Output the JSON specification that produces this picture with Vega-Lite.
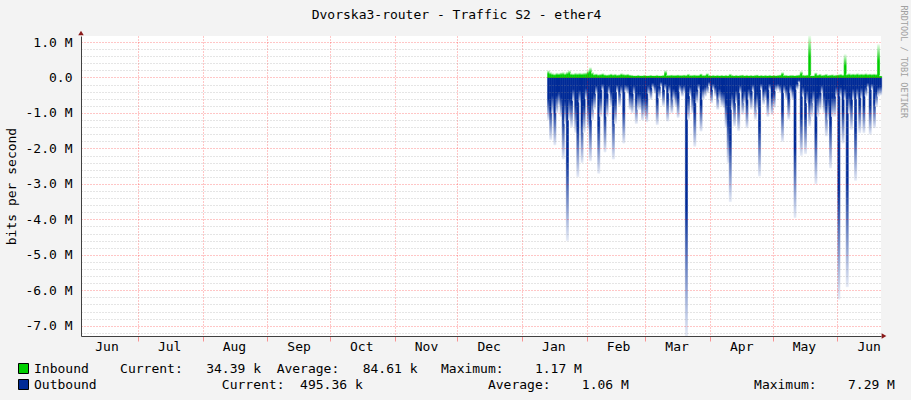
{
  "$schema": "https://vega.github.io/schema/vega-lite/v6.json",
  "width": 800,
  "height": 300,
  "autosize": {"type": "none"},
  "padding": {"left": 81, "top": 36, "right": 30, "bottom": 64},
  "background": "#F3F3F3",
  "view": {"fill": "#FFFFFF", "stroke": null},
  "config": {
    "axis": {"labelFont": "DejaVu Sans Mono", "labelFontSize": 13, "labelColor": "#000000", "titleFont": "DejaVu Sans Mono", "titleFontWeight": "normal", "titleColor": "#000000", "domainColor": "#404040", "tickSize": 0}
  },
  "data": {"values": [
    {"date": "2019-01-13", "inbound": 200000, "outbound": -1200000},
    {"date": "2019-01-14", "inbound": 150000, "outbound": -1750000},
    {"date": "2019-01-15", "inbound": 120000, "outbound": -1000000},
    {"date": "2019-01-16", "inbound": 100000, "outbound": -1900000},
    {"date": "2019-01-17", "inbound": 130000, "outbound": -1000000},
    {"date": "2019-01-18", "inbound": 120000, "outbound": -800000},
    {"date": "2019-01-19", "inbound": 140000, "outbound": -1100000},
    {"date": "2019-01-20", "inbound": 150000, "outbound": -2300000},
    {"date": "2019-01-21", "inbound": 120000, "outbound": -1300000},
    {"date": "2019-01-22", "inbound": 160000, "outbound": -4600000},
    {"date": "2019-01-23", "inbound": 200000, "outbound": -1200000},
    {"date": "2019-01-24", "inbound": 120000, "outbound": -1400000},
    {"date": "2019-01-25", "inbound": 110000, "outbound": -650000},
    {"date": "2019-01-26", "inbound": 130000, "outbound": -1550000},
    {"date": "2019-01-27", "inbound": 120000, "outbound": -2800000},
    {"date": "2019-01-28", "inbound": 130000, "outbound": -700000},
    {"date": "2019-01-29", "inbound": 120000, "outbound": -2400000},
    {"date": "2019-01-30", "inbound": 130000, "outbound": -1550000},
    {"date": "2019-01-31", "inbound": 140000, "outbound": -600000},
    {"date": "2019-02-01", "inbound": 200000, "outbound": -1450000},
    {"date": "2019-02-02", "inbound": 280000, "outbound": -2350000},
    {"date": "2019-02-03", "inbound": 150000, "outbound": -1200000},
    {"date": "2019-02-04", "inbound": 100000, "outbound": -900000},
    {"date": "2019-02-05", "inbound": 110000, "outbound": -450000},
    {"date": "2019-02-06", "inbound": 90000, "outbound": -2700000},
    {"date": "2019-02-07", "inbound": 100000, "outbound": -1100000},
    {"date": "2019-02-08", "inbound": 120000, "outbound": -350000},
    {"date": "2019-02-09", "inbound": 90000, "outbound": -2100000},
    {"date": "2019-02-10", "inbound": 80000, "outbound": -1100000},
    {"date": "2019-02-11", "inbound": 90000, "outbound": -450000},
    {"date": "2019-02-12", "inbound": 110000, "outbound": -800000},
    {"date": "2019-02-13", "inbound": 90000, "outbound": -2300000},
    {"date": "2019-02-14", "inbound": 100000, "outbound": -1300000},
    {"date": "2019-02-15", "inbound": 80000, "outbound": -400000},
    {"date": "2019-02-16", "inbound": 90000, "outbound": -800000},
    {"date": "2019-02-17", "inbound": 120000, "outbound": -450000},
    {"date": "2019-02-18", "inbound": 100000, "outbound": -1850000},
    {"date": "2019-02-19", "inbound": 90000, "outbound": -400000},
    {"date": "2019-02-20", "inbound": 100000, "outbound": -450000},
    {"date": "2019-02-21", "inbound": 80000, "outbound": -900000},
    {"date": "2019-02-22", "inbound": 70000, "outbound": -1000000},
    {"date": "2019-02-23", "inbound": 60000, "outbound": -450000},
    {"date": "2019-02-24", "inbound": 60000, "outbound": -1300000},
    {"date": "2019-02-25", "inbound": 70000, "outbound": -900000},
    {"date": "2019-02-26", "inbound": 60000, "outbound": -900000},
    {"date": "2019-02-27", "inbound": 60000, "outbound": -1200000},
    {"date": "2019-02-28", "inbound": 70000, "outbound": -1100000},
    {"date": "2019-03-01", "inbound": 60000, "outbound": -1250000},
    {"date": "2019-03-02", "inbound": 60000, "outbound": -450000},
    {"date": "2019-03-03", "inbound": 70000, "outbound": -620000},
    {"date": "2019-03-04", "inbound": 60000, "outbound": -300000},
    {"date": "2019-03-05", "inbound": 60000, "outbound": -450000},
    {"date": "2019-03-06", "inbound": 70000, "outbound": -1330000},
    {"date": "2019-03-07", "inbound": 60000, "outbound": -580000},
    {"date": "2019-03-08", "inbound": 60000, "outbound": -250000},
    {"date": "2019-03-09", "inbound": 70000, "outbound": -800000},
    {"date": "2019-03-10", "inbound": 200000, "outbound": -340000},
    {"date": "2019-03-11", "inbound": 70000, "outbound": -1230000},
    {"date": "2019-03-12", "inbound": 70000, "outbound": -440000},
    {"date": "2019-03-13", "inbound": 80000, "outbound": -1000000},
    {"date": "2019-03-14", "inbound": 70000, "outbound": -620000},
    {"date": "2019-03-15", "inbound": 70000, "outbound": -810000},
    {"date": "2019-03-16", "inbound": 80000, "outbound": -1130000},
    {"date": "2019-03-17", "inbound": 70000, "outbound": -390000},
    {"date": "2019-03-18", "inbound": 70000, "outbound": -530000},
    {"date": "2019-03-19", "inbound": 80000, "outbound": -430000},
    {"date": "2019-03-20", "inbound": 70000, "outbound": -7290000},
    {"date": "2019-03-21", "inbound": 100000, "outbound": -1180000},
    {"date": "2019-03-22", "inbound": 70000, "outbound": -520000},
    {"date": "2019-03-23", "inbound": 70000, "outbound": -1000000},
    {"date": "2019-03-24", "inbound": 80000, "outbound": -1940000},
    {"date": "2019-03-25", "inbound": 70000, "outbound": -720000},
    {"date": "2019-03-26", "inbound": 70000, "outbound": -340000},
    {"date": "2019-03-27", "inbound": 110000, "outbound": -1510000},
    {"date": "2019-03-28", "inbound": 70000, "outbound": -620000},
    {"date": "2019-03-29", "inbound": 70000, "outbound": -530000},
    {"date": "2019-03-30", "inbound": 120000, "outbound": -440000},
    {"date": "2019-03-31", "inbound": 70000, "outbound": -250000},
    {"date": "2019-04-01", "inbound": 60000, "outbound": -720000},
    {"date": "2019-04-02", "inbound": 70000, "outbound": -340000},
    {"date": "2019-04-03", "inbound": 60000, "outbound": -530000},
    {"date": "2019-04-04", "inbound": 70000, "outbound": -900000},
    {"date": "2019-04-05", "inbound": 60000, "outbound": -620000},
    {"date": "2019-04-06", "inbound": 70000, "outbound": -800000},
    {"date": "2019-04-07", "inbound": 60000, "outbound": -850000},
    {"date": "2019-04-08", "inbound": 70000, "outbound": -1400000},
    {"date": "2019-04-09", "inbound": 60000, "outbound": -2400000},
    {"date": "2019-04-10", "inbound": 100000, "outbound": -3500000},
    {"date": "2019-04-11", "inbound": 70000, "outbound": -900000},
    {"date": "2019-04-12", "inbound": 60000, "outbound": -1370000},
    {"date": "2019-04-13", "inbound": 70000, "outbound": -720000},
    {"date": "2019-04-14", "inbound": 60000, "outbound": -1500000},
    {"date": "2019-04-15", "inbound": 70000, "outbound": -430000},
    {"date": "2019-04-16", "inbound": 80000, "outbound": -1040000},
    {"date": "2019-04-17", "inbound": 60000, "outbound": -720000},
    {"date": "2019-04-18", "inbound": 70000, "outbound": -1420000},
    {"date": "2019-04-19", "inbound": 60000, "outbound": -620000},
    {"date": "2019-04-20", "inbound": 70000, "outbound": -900000},
    {"date": "2019-04-21", "inbound": 60000, "outbound": -380000},
    {"date": "2019-04-22", "inbound": 70000, "outbound": -1180000},
    {"date": "2019-04-23", "inbound": 80000, "outbound": -900000},
    {"date": "2019-04-24", "inbound": 60000, "outbound": -2780000},
    {"date": "2019-04-25", "inbound": 70000, "outbound": -340000},
    {"date": "2019-04-26", "inbound": 60000, "outbound": -760000},
    {"date": "2019-04-27", "inbound": 70000, "outbound": -620000},
    {"date": "2019-04-28", "inbound": 60000, "outbound": -1100000},
    {"date": "2019-04-29", "inbound": 70000, "outbound": -340000},
    {"date": "2019-04-30", "inbound": 60000, "outbound": -1040000},
    {"date": "2019-05-01", "inbound": 70000, "outbound": -850000},
    {"date": "2019-05-02", "inbound": 60000, "outbound": -380000},
    {"date": "2019-05-03", "inbound": 70000, "outbound": -340000},
    {"date": "2019-05-04", "inbound": 80000, "outbound": -430000},
    {"date": "2019-05-05", "inbound": 150000, "outbound": -1800000},
    {"date": "2019-05-06", "inbound": 70000, "outbound": -430000},
    {"date": "2019-05-07", "inbound": 70000, "outbound": -620000},
    {"date": "2019-05-08", "inbound": 60000, "outbound": -1180000},
    {"date": "2019-05-09", "inbound": 70000, "outbound": -430000},
    {"date": "2019-05-10", "inbound": 70000, "outbound": -620000},
    {"date": "2019-05-11", "inbound": 60000, "outbound": -3950000},
    {"date": "2019-05-12", "inbound": 70000, "outbound": -340000},
    {"date": "2019-05-13", "inbound": 80000, "outbound": -150000},
    {"date": "2019-05-14", "inbound": 180000, "outbound": -2200000},
    {"date": "2019-05-15", "inbound": 80000, "outbound": -530000},
    {"date": "2019-05-16", "inbound": 70000, "outbound": -2150000},
    {"date": "2019-05-17", "inbound": 80000, "outbound": -720000},
    {"date": "2019-05-18", "inbound": 1170000, "outbound": -1370000},
    {"date": "2019-05-19", "inbound": 60000, "outbound": -1100000},
    {"date": "2019-05-20", "inbound": 60000, "outbound": -720000},
    {"date": "2019-05-21", "inbound": 140000, "outbound": -3000000},
    {"date": "2019-05-22", "inbound": 80000, "outbound": -1100000},
    {"date": "2019-05-23", "inbound": 100000, "outbound": -900000},
    {"date": "2019-05-24", "inbound": 70000, "outbound": -430000},
    {"date": "2019-05-25", "inbound": 80000, "outbound": -1000000},
    {"date": "2019-05-26", "inbound": 100000, "outbound": -1650000},
    {"date": "2019-05-27", "inbound": 70000, "outbound": -1180000},
    {"date": "2019-05-28", "inbound": 80000, "outbound": -2550000},
    {"date": "2019-05-29", "inbound": 90000, "outbound": -1100000},
    {"date": "2019-05-30", "inbound": 70000, "outbound": -1100000},
    {"date": "2019-05-31", "inbound": 80000, "outbound": -530000},
    {"date": "2019-06-01", "inbound": 90000, "outbound": -6250000},
    {"date": "2019-06-02", "inbound": 100000, "outbound": -530000},
    {"date": "2019-06-03", "inbound": 80000, "outbound": -1850000},
    {"date": "2019-06-04", "inbound": 650000, "outbound": -620000},
    {"date": "2019-06-05", "inbound": 100000, "outbound": -5900000},
    {"date": "2019-06-06", "inbound": 120000, "outbound": -1000000},
    {"date": "2019-06-07", "inbound": 100000, "outbound": -1470000},
    {"date": "2019-06-08", "inbound": 110000, "outbound": -620000},
    {"date": "2019-06-09", "inbound": 100000, "outbound": -2900000},
    {"date": "2019-06-10", "inbound": 120000, "outbound": -600000},
    {"date": "2019-06-11", "inbound": 100000, "outbound": -1560000},
    {"date": "2019-06-12", "inbound": 110000, "outbound": -570000},
    {"date": "2019-06-13", "inbound": 100000, "outbound": -1560000},
    {"date": "2019-06-14", "inbound": 120000, "outbound": -530000},
    {"date": "2019-06-15", "inbound": 100000, "outbound": -300000},
    {"date": "2019-06-16", "inbound": 110000, "outbound": -1600000},
    {"date": "2019-06-17", "inbound": 100000, "outbound": -340000},
    {"date": "2019-06-18", "inbound": 110000, "outbound": -1420000},
    {"date": "2019-06-19", "inbound": 100000, "outbound": -810000},
    {"date": "2019-06-20", "inbound": 930000, "outbound": -530000},
    {"date": "2019-06-21", "inbound": 50000, "outbound": -495360}
  ]},
  "layer": [
    {
      "mark": {"type": "bar", "binSpacing": 0, "strokeWidth": 0.6,
        "fill": {"gradient": "linear", "x1": 0, "y1": 0, "x2": 0, "y2": 1, "stops": [{"offset": 0, "color": "#002A97"}, {"offset": 0.5, "color": "#002A97"}, {"offset": 1, "color": "#E4E9F5"}]},
        "stroke": {"gradient": "linear", "x1": 0, "y1": 0, "x2": 0, "y2": 1, "stops": [{"offset": 0, "color": "#002A97"}, {"offset": 0.5, "color": "#002A97"}, {"offset": 1, "color": "#E4E9F5"}]}},
      "encoding": {
        "x": {"field": "date", "type": "temporal", "timeUnit": "utcyearmonthdate",
          "scale": {"type": "utc", "domain": [{"year": 2018, "month": 6, "date": 3, "hours": 19, "utc": true}, {"year": 2019, "month": 6, "date": 21, "hours": 22, "utc": true}]},
          "axis": {"orient": "bottom", "title": null, "labels": false, "domain": false, "ticks": true, "tickSize": 5, "tickColor": "#FF0000", "tickOpacity": 0.4, "grid": true, "gridColor": "#FF0000", "gridOpacity": 0.45, "gridDash": [1, 2], "zindex": 1,
            "values": [{"year": 2018, "month": 7, "date": 1, "utc": true}, {"year": 2018, "month": 8, "date": 1, "utc": true}, {"year": 2018, "month": 9, "date": 1, "utc": true}, {"year": 2018, "month": 10, "date": 1, "utc": true}, {"year": 2018, "month": 11, "date": 1, "utc": true}, {"year": 2018, "month": 12, "date": 1, "utc": true}, {"year": 2019, "month": 1, "date": 1, "utc": true}, {"year": 2019, "month": 2, "date": 1, "utc": true}, {"year": 2019, "month": 3, "date": 1, "utc": true}, {"year": 2019, "month": 4, "date": 1, "utc": true}, {"year": 2019, "month": 5, "date": 1, "utc": true}, {"year": 2019, "month": 6, "date": 1, "utc": true}]}},
        "y": {"field": "outbound", "type": "quantitative",
          "scale": {"domain": [-7290000, 1170000], "nice": false, "zero": false},
          "axis": {"orient": "left", "title": null, "labels": false, "domain": false, "ticks": false, "grid": true, "gridColor": "#8C8C8C", "gridOpacity": 0.45, "gridDash": [1, 2], "zindex": 1,
            "values": [-7200000, -6800000, -6600000, -6400000, -6200000, -5800000, -5600000, -5400000, -5200000, -4800000, -4600000, -4400000, -4200000, -3800000, -3600000, -3400000, -3200000, -2800000, -2600000, -2400000, -2200000, -1800000, -1600000, -1400000, -1200000, -800000, -600000, -400000, -200000, 200000, 400000, 600000, 800000]}},
        "y2": {"datum": 0}
      }
    },
    {
      "mark": {"type": "bar", "binSpacing": 0, "strokeWidth": 0.6,
        "fill": {"gradient": "linear", "x1": 0, "y1": 0, "x2": 0, "y2": 1, "stops": [{"offset": 0, "color": "#E8FBE8"}, {"offset": 0.5, "color": "#00CF00"}, {"offset": 1, "color": "#00CF00"}]},
        "stroke": {"gradient": "linear", "x1": 0, "y1": 0, "x2": 0, "y2": 1, "stops": [{"offset": 0, "color": "#E8FBE8"}, {"offset": 0.5, "color": "#00CF00"}, {"offset": 1, "color": "#00CF00"}]}},
      "encoding": {
        "x": {"field": "date", "type": "temporal", "timeUnit": "utcyearmonthdate",
          "axis": {"orient": "bottom", "title": null, "grid": false, "ticks": false, "domain": true, "domainColor": "#404040", "labelPadding": 4, "labelOverlap": false, "labelFlush": false, "labelAlign": "center", "zindex": 1,
            "labelExpr": "utcFormat(datum.value, '%b')",
            "values": [{"year": 2018, "month": 6, "date": 16, "utc": true}, {"year": 2018, "month": 7, "date": 16, "utc": true}, {"year": 2018, "month": 8, "date": 16, "utc": true}, {"year": 2018, "month": 9, "date": 16, "utc": true}, {"year": 2018, "month": 10, "date": 16, "utc": true}, {"year": 2018, "month": 11, "date": 16, "utc": true}, {"year": 2018, "month": 12, "date": 16, "utc": true}, {"year": 2019, "month": 1, "date": 16, "utc": true}, {"year": 2019, "month": 2, "date": 16, "utc": true}, {"year": 2019, "month": 3, "date": 16, "utc": true}, {"year": 2019, "month": 4, "date": 16, "utc": true}, {"year": 2019, "month": 5, "date": 16, "utc": true}, {"year": 2019, "month": 6, "date": 16, "utc": true}]}},
        "y": {"field": "inbound", "type": "quantitative",
          "axis": {"orient": "left", "title": "bits per second", "titleFontSize": 13, "titleAngle": -90, "titleX": -70, "titleY": 150, "titleAlign": "center", "titleBaseline": "middle",
            "grid": true, "gridColor": "#FF0000", "gridOpacity": 0.45, "gridDash": [1, 2], "ticks": false, "domain": true, "domainColor": "#404040", "labelPadding": 9, "labelOverlap": false, "labelFlush": false, "zindex": 1,
            "values": [-7000000, -6000000, -5000000, -4000000, -3000000, -2000000, -1000000, 0, 1000000],
            "labelExpr": "datum.value == 0 ? '0.0' : (datum.value < 0 ? '-' : '') + format(abs(datum.value) / 1000000, '.1f') + ' M'"}},
        "y2": {"datum": 0}
      }
    },
    {
      "data": {"values": [{"series": "Inbound"}, {"series": "Outbound"}]},
      "mark": {"type": "point", "filled": true, "opacity": 0, "size": 0},
      "encoding": {
        "fill": {"field": "series", "type": "nominal",
          "scale": {"domain": ["Inbound", "Outbound"], "range": ["#00CF00", "#002A97"]},
          "legend": {"orient": "none", "legendX": -64, "legendY": 326, "direction": "vertical", "title": null, "padding": 0,
            "symbolType": "square", "symbolSize": 100, "symbolStrokeColor": "#000000", "symbolStrokeWidth": 1, "symbolOpacity": 1,
            "labelFont": "DejaVu Sans Mono", "labelFontSize": 13, "labelColor": "#000000", "labelLimit": 1000, "labelOffset": 4, "rowPadding": 1,
            "labelExpr": "datum.label == 'Inbound' ? 'Inbound\u00a0\u00a0\u00a0\u00a0Current:\u00a0\u00a0\u00a034.39\u00a0k\u00a0\u00a0Average:\u00a0\u00a0\u00a084.61\u00a0k\u00a0\u00a0\u00a0Maximum:\u00a0\u00a0\u00a0\u00a01.17\u00a0M' : 'Outbound\u00a0\u00a0\u00a0\u00a0\u00a0\u00a0\u00a0\u00a0\u00a0\u00a0\u00a0\u00a0\u00a0\u00a0\u00a0\u00a0Current:\u00a0\u00a0495.36\u00a0k\u00a0\u00a0\u00a0\u00a0\u00a0\u00a0\u00a0\u00a0\u00a0\u00a0\u00a0\u00a0\u00a0\u00a0\u00a0\u00a0Average:\u00a0\u00a0\u00a0\u00a01.06\u00a0M\u00a0\u00a0\u00a0\u00a0\u00a0\u00a0\u00a0\u00a0\u00a0\u00a0\u00a0\u00a0\u00a0\u00a0\u00a0\u00a0Maximum:\u00a0\u00a0\u00a0\u00a07.29\u00a0M'",
            "encode": {"symbols": {"update": {"fill": {"signal": "datum.value === 'Inbound' ? '#00CF00' : '#002A97'"}, "stroke": {"value": "#000000"}, "strokeWidth": {"value": 1}, "opacity": {"value": 1}, "size": {"value": 100}}}}}
        }
      }
    },
    {
      "data": {"values": [{"arrow": "up"}]},
      "mark": {"type": "point", "shape": "triangle-up", "filled": true, "color": "#8B1A1A", "opacity": 1, "size": 30, "yOffset": -3},
      "encoding": {
        "x": {"datum": {"year": 2018, "month": 6, "date": 3, "hours": 19, "utc": true}, "type": "temporal",
          "axis": {"orient": "top", "title": "Dvorska3-router - Traffic S2 - ether4", "labels": false, "ticks": false, "domain": false, "grid": false,
            "titleX": 375, "titleY": -18, "titleAlign": "center", "titleBaseline": "alphabetic", "titleFont": "DejaVu Sans Mono", "titleFontSize": 13, "titleColor": "#000000", "titleAngle": 0}},
        "y": {"datum": 1170000, "type": "quantitative",
          "axis": {"orient": "right", "title": "RRDTOOL / TOBI OETIKER", "labels": false, "ticks": false, "domain": false, "grid": false,
            "titleAngle": 90, "titleX": 22, "titleY": -31, "titleAlign": "left", "titleBaseline": "middle", "titleFont": "DejaVu Sans Mono", "titleFontSize": 8.5, "titleColor": "#A0A0A0"}}
      }
    },
    {
      "data": {"values": [{"arrow": "right"}]},
      "mark": {"type": "point", "shape": "triangle-right", "filled": true, "color": "#8B1A1A", "opacity": 1, "size": 30, "xOffset": 3},
      "encoding": {
        "x": {"datum": {"year": 2019, "month": 6, "date": 21, "hours": 22, "utc": true}, "type": "temporal", "axis": null},
        "y": {"datum": -7290000, "type": "quantitative", "axis": null}
      }
    }
  ],
  "resolve": {"axis": {"x": "independent", "y": "independent"}}
}
